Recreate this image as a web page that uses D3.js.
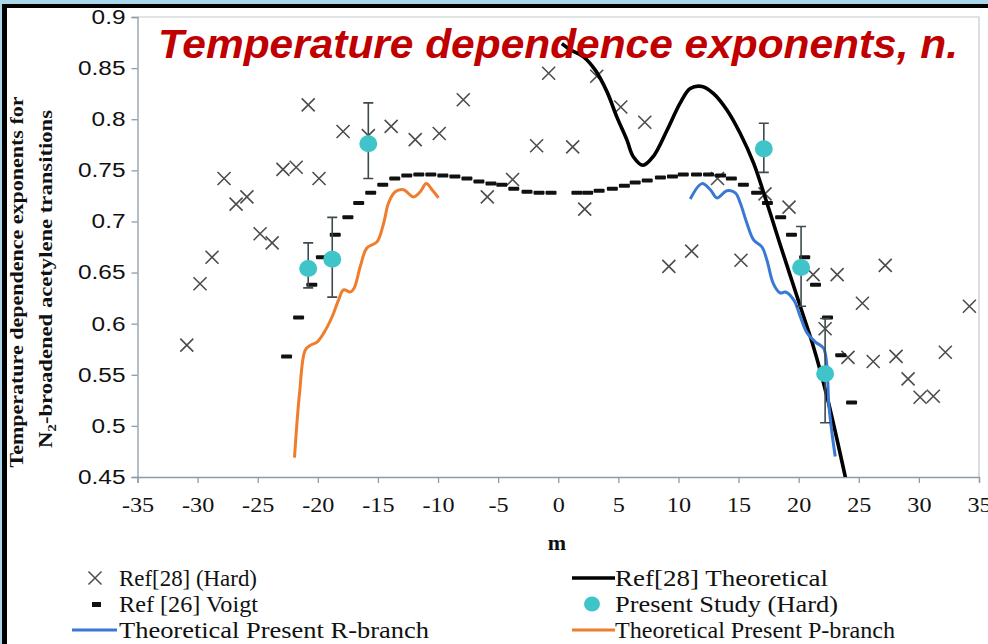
<!DOCTYPE html>
<html><head><meta charset="utf-8">
<script src="https://cdn.jsdelivr.net/npm/d3@7/dist/d3.min.js"></script>
<style>html,body{margin:0;padding:0;background:#a9d6e8;overflow:hidden} svg{display:block}</style>
</head><body>
<svg id="c" width="988" height="644"></svg>
<script>
// ---------- data ----------
const ref28HardM = [-30.9,-29.8,-28.8,-27.8,-26.8,-25.9,-24.8,-23.8,-22.9,-21.8,-20.8,-19.9,-17.9,-15.8,-13.9,-11.9,-9.9,-7.9,-5.9,-3.8,-1.8,-0.8,
  1.2,2.2,3.2,5.2,7.2,9.2,11.1,13.25,15.2,17.2,19.2,21.2,22.2,23.2,24.1,25.3,26.2,27.2,28.1,29.1,30.1,31.2,32.2,34.2];
const ref28HardN = [0.579,0.639,0.665,0.742,0.717,0.724,0.688,0.679,0.751,0.753,0.814,0.742,0.788,0.784,0.793,0.780,0.786,0.819,0.724,0.741,0.774,0.845,
  0.773,0.712,0.842,0.812,0.797,0.656,0.671,0.742,0.662,0.727,0.714,0.648,0.595,0.648,0.567,0.620,0.563,0.657,0.568,0.546,0.528,0.529,0.572,0.617];

const voigtM = [-22.6,-21.6,-20.5,-19.7,-18.55,-17.5,-16.6,-15.6,-14.6,-13.6,-12.6,-11.6,-10.6,-9.6,-8.6,-7.6,-6.6,-5.6,-4.7,-3.7,-2.6,-1.6,-0.6,
  1.55,2.45,3.4,4.5,5.5,6.4,7.4,8.5,9.5,10.4,11.5,12.5,13.5,14.4,15.4,16.5,17.4,18.5,19.4,20.5,21.4,22.4,23.5,24.4];
const voigtN = [0.568,0.606,0.638,0.665,0.687,0.704,0.718,0.728,0.736,0.742,0.745,0.746,0.746,0.745,0.744,0.742,0.739,0.737,0.736,0.732,0.729,0.728,0.728,
  0.728,0.728,0.730,0.732,0.735,0.738,0.740,0.743,0.744,0.746,0.746,0.746,0.745,0.742,0.736,0.728,0.718,0.704,0.687,0.665,0.638,0.606,0.569,0.523];

const presentM   = [-20.8,-18.8,-15.8,17.1,20.2,22.2];
const presentN   = [0.654,0.663,0.776,0.771,0.655,0.551];
const presentHi  = [0.679,0.704,0.816,0.796,0.695,0.605];
const presentLo  = [0.635,0.626,0.742,0.748,0.617,0.503];

const theoM = [0.3,1.0,2.1,3.08,4.05,4.88,5.7,6.26,7.05,7.93,9.04,10.15,10.98,11.96,12.92,14.03,15.14,16.25,17.36,18.47,20.13,21.24,22.35,23.9];
const theoN = [0.874,0.868,0.861,0.848,0.827,0.802,0.780,0.763,0.755,0.764,0.789,0.816,0.830,0.832,0.825,0.809,0.786,0.757,0.718,0.677,0.617,0.577,0.529,0.449];

const rBranchM = [10.98,11.96,12.65,13.2,14.03,14.73,15.14,15.7,16.25,16.95,17.36,17.9,18.47,18.9,19.6,20.13,20.7,21.4,22.07,22.35,22.5,22.77,23.04];
const rBranchN = [0.722,0.737,0.731,0.723,0.730,0.728,0.718,0.698,0.682,0.675,0.662,0.639,0.630,0.631,0.623,0.607,0.591,0.582,0.576,0.558,0.522,0.493,0.470];

const pBranchM = [-21.94,-21.52,-21.05,-20.6,-20.07,-19.5,-18.8,-18.28,-17.86,-17.3,-16.97,-16.47,-15.92,-15.08,-14.53,-14.12,-13.56,-12.87,-12.04,-11.48,-10.98,-10.5,-9.96];
const pBranchN = [0.469,0.532,0.574,0.579,0.582,0.591,0.607,0.623,0.633,0.631,0.635,0.656,0.674,0.680,0.698,0.718,0.729,0.731,0.724,0.729,0.737,0.731,0.723];

const xTickValues = [-35,-30,-25,-20,-15,-10,-5,0,5,10,15,20,25,30,35];
const yTickValues = [0.45,0.5,0.55,0.6,0.65,0.7,0.75,0.8,0.85,0.9];
const yTickLabels = ["0.45","0.5","0.55","0.6","0.65","0.7","0.75","0.8","0.85","0.9"];

const titleText = "Temperature dependence exponents, n.";
const yTitle1 = "Temperature dependence exponents  for";
const yTitle2a = "N", yTitle2sub = "2", yTitle2b = "-broadened acetylene  transitions";
const xTitle = "m";
const legendLabels = ["Ref[28] (Hard)","Ref [26] Voigt","Theoretical Present R-branch","Ref[28] Theoretical","Present Study (Hard)","Theoretical Present P-branch"];

// ---------- colours ----------
const C_CROSS = "#4d4d4d", C_CYAN = "#3fc5c9", C_BLUE = "#3a78d6", C_ORANGE = "#ee7d2c", C_AXIS = "#8d9ca8";
const serif = "'Liberation Serif','Times New Roman',serif";
const sans = "'Liberation Sans',Arial,sans-serif";

const svg = d3.select("#c");
// frame
svg.append("rect").attr("x",2).attr("y",4).attr("width",986).attr("height",640).attr("fill","#000");
svg.append("rect").attr("x",7).attr("y",8).attr("width",981).attr("height",636).attr("fill","#fff");

const x = d3.scaleLinear().domain([-35,35]).range([137.5,979]);
const y = d3.scaleLinear().domain([0.45,0.9]).range([477,17]);

// plot frame (top / right)
svg.append("path").attr("d",`M${x(-35)},${y(0.9)}H${x(35)}V${y(0.45)}`).attr("fill","none").attr("stroke","#c4c9cc").attr("stroke-width",1.2);

function stretch(sel, f){ sel.each(function(){ const l=this.getComputedTextLength(); d3.select(this).attr("textLength", l*f).attr("lengthAdjust","spacingAndGlyphs"); }); }

// axes
const gx = svg.append("g").attr("transform",`translate(0,${y(0.45)})`)
  .call(d3.axisBottom(x).tickValues(xTickValues).tickSize(6).tickPadding(9).tickFormat(d=>String(d)));
gx.attr("font-family",serif);
gx.select(".domain").attr("stroke",C_AXIS).attr("stroke-width",1.3);
gx.selectAll(".tick line").attr("stroke",C_AXIS).attr("stroke-width",1.3);
gx.selectAll(".tick text").attr("font-family",serif).attr("font-size",22).attr("fill","#111").attr("dy","0.9em");
stretch(gx.selectAll(".tick text"),1.1);

const gy = svg.append("g").attr("transform",`translate(${x(-35)},0)`)
  .call(d3.axisLeft(y).tickValues(yTickValues).tickSize(6).tickPadding(6).tickFormat((d,i)=>yTickLabels[i]));
gy.attr("font-family",sans);
gy.select(".domain").attr("stroke",C_AXIS).attr("stroke-width",1.3);
gy.selectAll(".tick line").attr("stroke",C_AXIS).attr("stroke-width",1.3);
gy.selectAll(".tick text").attr("font-family",sans).attr("font-size",20).attr("fill","#111");
stretch(gy.selectAll(".tick text"),1.22);

// clip
svg.append("clipPath").attr("id","pc").append("rect").attr("x",x(-35)).attr("y",y(0.9)).attr("width",x(35)-x(-35)).attr("height",y(0.45)-y(0.9));
const plot = svg.append("g").attr("clip-path","url(#pc)");

// crosses
const cs = 6.5;
plot.append("g").selectAll("path").data(ref28HardM.map((m,i)=>[m,ref28HardN[i]])).join("path")
  .attr("d",d=>{const px=x(d[0]),py=y(d[1]);return `M${px-cs},${py-cs}L${px+cs},${py+cs}M${px-cs},${py+cs}L${px+cs},${py-cs}`;})
  .attr("stroke",C_CROSS).attr("stroke-width",1.6).attr("fill","none");

// voigt dashes
plot.append("g").selectAll("rect").data(voigtM.map((m,i)=>[m,voigtN[i]])).join("rect")
  .attr("x",d=>x(d[0])-5.5).attr("y",d=>y(d[1])-2).attr("width",11).attr("height",4).attr("rx",1).attr("fill","#111");

// lines
const line = d3.line().x(d=>x(d[0])).y(d=>y(d[1])).curve(d3.curveCatmullRom.alpha(0.5));
plot.append("path").datum(theoM.map((m,i)=>[m,theoN[i]])).attr("d",line).attr("fill","none").attr("stroke","#000").attr("stroke-width",3.6);
plot.append("path").datum(rBranchM.map((m,i)=>[m,rBranchN[i]])).attr("d",line).attr("fill","none").attr("stroke",C_BLUE).attr("stroke-width",3);
plot.append("path").datum(pBranchM.map((m,i)=>[m,pBranchN[i]])).attr("d",line).attr("fill","none").attr("stroke",C_ORANGE).attr("stroke-width",3);

// present study with error bars
const ps = plot.append("g");
presentM.forEach((m,i)=>{
  const px=x(m);
  ps.append("path").attr("d",`M${px},${y(presentHi[i])}V${y(presentLo[i])}M${px-5},${y(presentHi[i])}H${px+5}M${px-5},${y(presentLo[i])}H${px+5}`)
    .attr("stroke","#3f4a4f").attr("stroke-width",1.6).attr("fill","none");
});
ps.selectAll("ellipse").data(presentM.map((m,i)=>[m,presentN[i]])).join("ellipse")
  .attr("cx",d=>x(d[0])).attr("cy",d=>y(d[1])).attr("rx",9).attr("ry",8.5).attr("fill",C_CYAN);

// title
svg.append("text").attr("x",158).attr("y",58).text(titleText)
  .attr("font-family",sans).attr("font-weight","bold").attr("font-style","italic")
  .attr("font-size",40).attr("fill","#c00000").attr("textLength",800).attr("lengthAdjust","spacingAndGlyphs");

// axis titles
svg.append("text").attr("transform","translate(23,282) rotate(-90)").attr("text-anchor","middle")
  .attr("font-family",serif).attr("font-weight","bold").attr("font-size",18).attr("fill","#111")
  .attr("textLength",371).attr("lengthAdjust","spacingAndGlyphs").text(yTitle1);
const t2 = svg.append("text").attr("transform","translate(52,279) rotate(-90)").attr("text-anchor","middle")
  .attr("font-family",serif).attr("font-weight","bold").attr("font-size",18).attr("fill","#111")
  .attr("textLength",338).attr("lengthAdjust","spacingAndGlyphs");
t2.append("tspan").text(yTitle2a);
t2.append("tspan").attr("font-size",12).attr("dy",4).text(yTitle2sub);
t2.append("tspan").attr("dy",-4).text(yTitle2b);
svg.append("text").attr("x",557).attr("y",550).attr("text-anchor","middle").attr("font-family",serif)
  .attr("font-weight","bold").attr("font-size",22).attr("fill","#111").text(xTitle);

// legend
const legRows = [578,604,630];
const legTextX = [119,615];
const legW = [138,139,310,213,223,280];
const lg = svg.append("g").attr("font-family",serif);
legendLabels.forEach((lab,i)=>{
  const col = i<3?0:1, row = i%3;
  lg.append("text").attr("x",legTextX[col]).attr("y",legRows[row]+8).text(lab)
    .attr("font-family",serif).attr("font-size",24).attr("fill","#111")
    .attr("textLength",legW[i]).attr("lengthAdjust","spacingAndGlyphs");
});
// symbols
lg.append("path").attr("d",`M${95-cs},${578-cs}L${95+cs},${578+cs}M${95-cs},${578+cs}L${95+cs},${578-cs}`).attr("stroke",C_CROSS).attr("stroke-width",1.5);
lg.append("rect").attr("x",92).attr("y",602).attr("width",9).attr("height",5).attr("fill","#111");
lg.append("line").attr("x1",72).attr("x2",117).attr("y1",630).attr("y2",630).attr("stroke",C_BLUE).attr("stroke-width",3);
lg.append("line").attr("x1",572).attr("x2",615).attr("y1",578).attr("y2",578).attr("stroke","#000").attr("stroke-width",3.5);
lg.append("ellipse").attr("cx",592).attr("cy",604).attr("rx",8).attr("ry",7.5).attr("fill",C_CYAN);
lg.append("line").attr("x1",572).attr("x2",615).attr("y1",630).attr("y2",630).attr("stroke",C_ORANGE).attr("stroke-width",3);
</script>
</body></html>
